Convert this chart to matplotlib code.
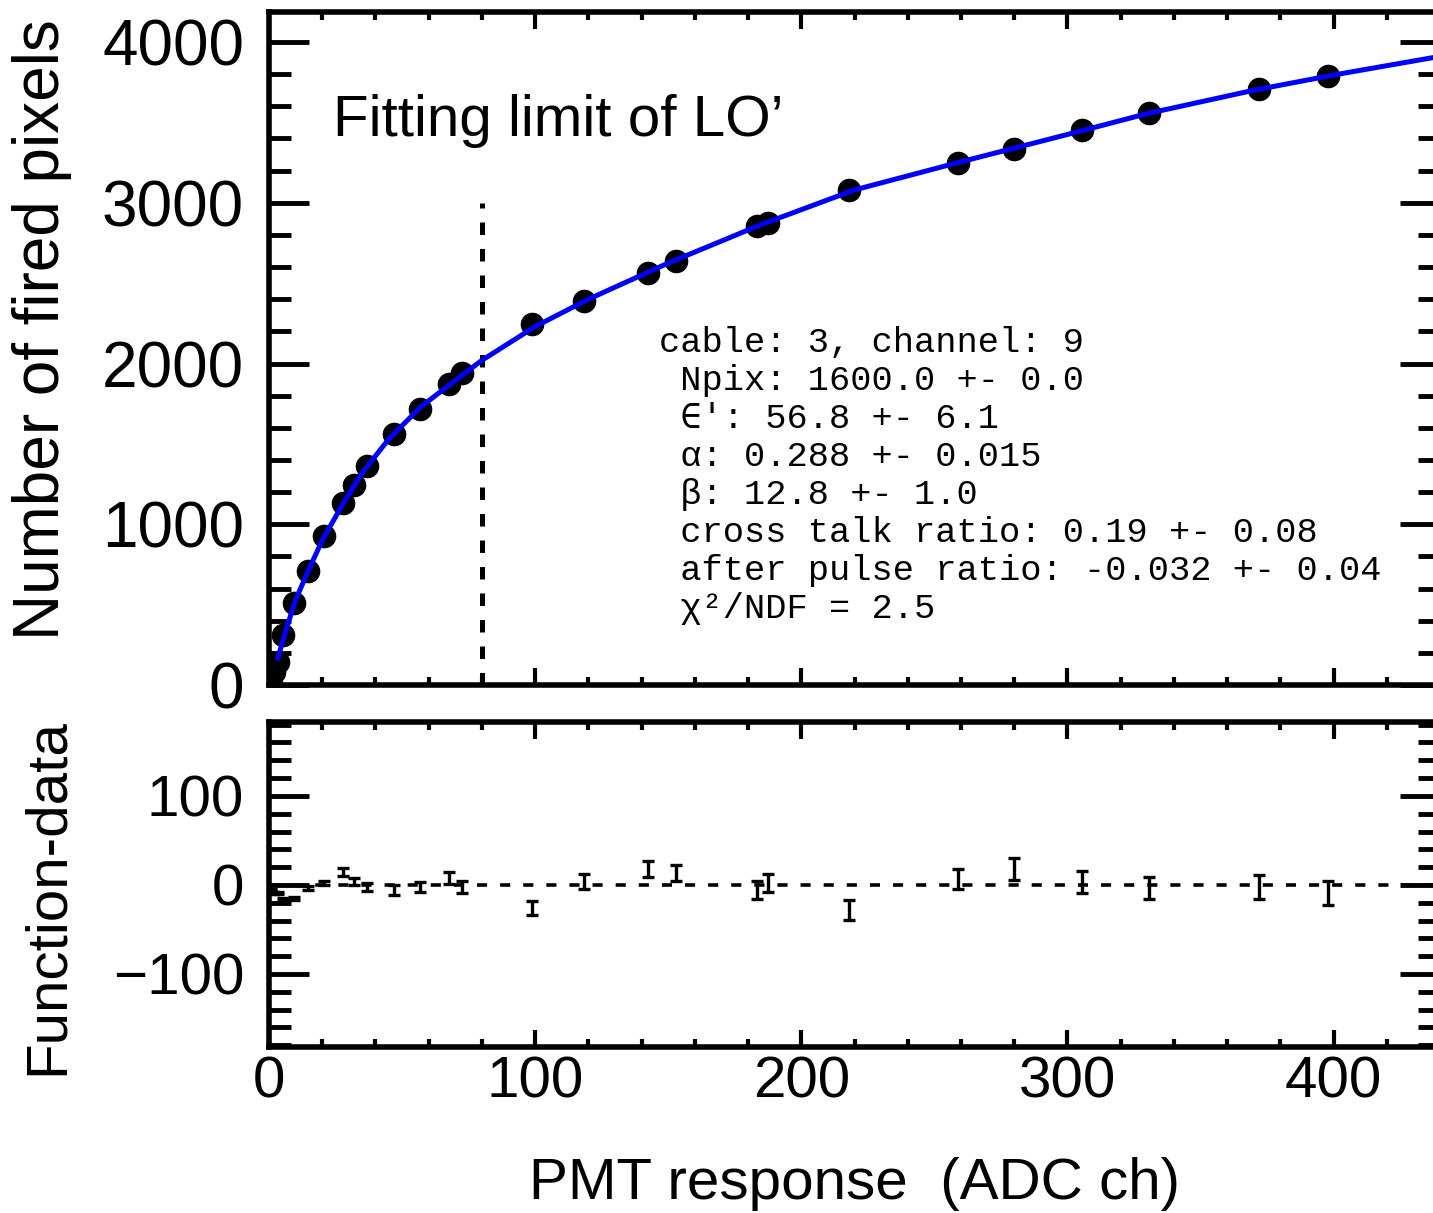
import numpy as np
import matplotlib
matplotlib.use("Agg")
import matplotlib.pyplot as plt
from matplotlib.ticker import MultipleLocator

"""Data read from the picture"""
adc = [0.7, 1.9, 3.2, 5.4, 9.4, 14.6, 20.6, 27.7, 31.8, 36.7, 46.8, 56.9, 67.8, 72.7,
       98.9, 118.3, 142.3, 152.8, 183.5, 187.6, 218.0, 258.8, 279.8, 305.6, 330.7,
       371.9, 397.8]
pixels = [15, 80, 145, 310, 510, 708, 925, 1130, 1242, 1360, 1559, 1720, 1870, 1938,
          2248, 2391, 2565, 2640, 2857, 2876, 3081, 3248, 3335, 3453, 3559, 3708, 3789]
resid = [-5, -9, -9, -16, -15, -3.4, 2.2, 14.6, 3.4, -2.2, -5.6, -2.2, 7.9, -2.2,
         -25.8, 3.4, 18, 13.5, -5.6, 2.2, -28, 6.7, 18, 3.4, -3.4, -2.2, -9]
resid_err = [1, 1, 1, 1.5, 1.5, 2, 2.5, 4.5, 4, 4.5, 5.6, 5.6, 6.7, 6.7,
             7.9, 8.4, 9, 9, 10, 10, 11, 11, 12, 12, 12, 13.5, 13.5]

fit_x = [3.4, 5, 7.5, 10, 15, 20, 27.7, 35, 45, 57, 68, 80, 100, 120, 150, 185,
         220, 260, 300, 330, 370, 400, 439]
fit_y = [168, 265, 400, 530, 720, 900, 1125, 1320, 1530, 1730, 1870, 2020, 2230,
         2400, 2625, 2865, 3080, 3255, 3425, 3555, 3700, 3795, 3908]

fit_limit = 80
stats = ["cable: 3, channel: 9",
         " Npix: 1600.0 +- 0.0",
         " \u2208\u2032: 56.8 +- 6.1",
         " \u03b1: 0.288 +- 0.015",
         " \u03b2: 12.8 +- 1.0",
         " cross talk ratio: 0.19 +- 0.08",
         " after pulse ratio: -0.032 +- 0.04",
         " \u03c7\u00b2/NDF = 2.5"]

"""Figure"""
W, H = 1433, 1213
plt.rcParams['font.family'] = ['Liberation Sans', 'DejaVu Sans']
plt.rcParams['axes.linewidth'] = 4.0
fig = plt.figure(figsize=(W/100, H/100), dpi=100)

x0, xr = 269, 1440
ax1 = fig.add_axes([x0/W, (H-685)/H, (xr-x0)/W, (685-12)/H])
ax2 = fig.add_axes([x0/W, (H-1047)/H, (xr-x0)/W, (1047-722)/H])

for ax in (ax1, ax2):
    ax.set_xlim(0, 440)
    ax.xaxis.set_major_locator(MultipleLocator(100))
    ax.xaxis.set_minor_locator(MultipleLocator(20))
    ax.tick_params(which='both', direction='in', top=True, right=True)
    ax.tick_params(axis='y', which='major', length=29, width=3.5, pad=18, labelsize=42)
    ax.tick_params(axis='y', which='minor', length=16, width=3.5)
    ax.tick_params(axis='x', which='major', length=12, width=3, pad=6, labelsize=42)
    ax.tick_params(axis='x', which='minor', length=6, width=3)

"""Top panel"""
ax1.plot(adc, pixels, 'o', color='black', ms=16, zorder=3)
ax1.plot(fit_x, fit_y, '-', color='#0000ff', lw=3.6, zorder=4)
ax1.plot([fit_limit, fit_limit], [0, 3000], color='black', lw=3.6,
         dashes=(2.5, 2.8), zorder=2)
ax1.set_ylim(0, 4187)
ax1.yaxis.set_major_locator(MultipleLocator(1000))
ax1.yaxis.set_minor_locator(MultipleLocator(200))
ax1.tick_params(axis='y', which='major', labelsize=46)
ax1.tick_params(axis='x', labelbottom=False)
ax1.text(24, 3510, "Fitting limit of LO\u2019", fontsize=42, va='center', ha='left')

for i, line in enumerate(stats):
    ypx = 342 + 38.1*i
    fig.text(659/W, 1 - ypx/H, line, fontsize=25.5, va='center', ha='left',
             family=['Liberation Mono', 'DejaVu Sans Mono'])

"""Bottom panel"""
ax2.axhline(0, color='black', lw=2.6, dashes=(2.8, 3.6), zorder=1)
ax2.errorbar(adc, resid, yerr=resid_err, fmt='none', ecolor='black', elinewidth=2.4,
             capsize=4.5, capthick=2.4, zorder=3)
ax2.set_ylim(-182, 183)
ax2.yaxis.set_major_locator(MultipleLocator(100))
ax2.yaxis.set_minor_locator(MultipleLocator(20))

fig.text(42/W, 1 - 330/H, "Number of fired pixels", rotation=90, fontsize=46,
         ha='center', va='center')
fig.text(48/W, 1 - 897/H, "Function-data", rotation=90, fontsize=42,
         ha='center', va='center')
fig.text(854/W, 1 - 1199/H, "PMT response  (ADC ch)", fontsize=42,
         ha='center', va='baseline')

fig.savefig('out.png', dpi=100)
